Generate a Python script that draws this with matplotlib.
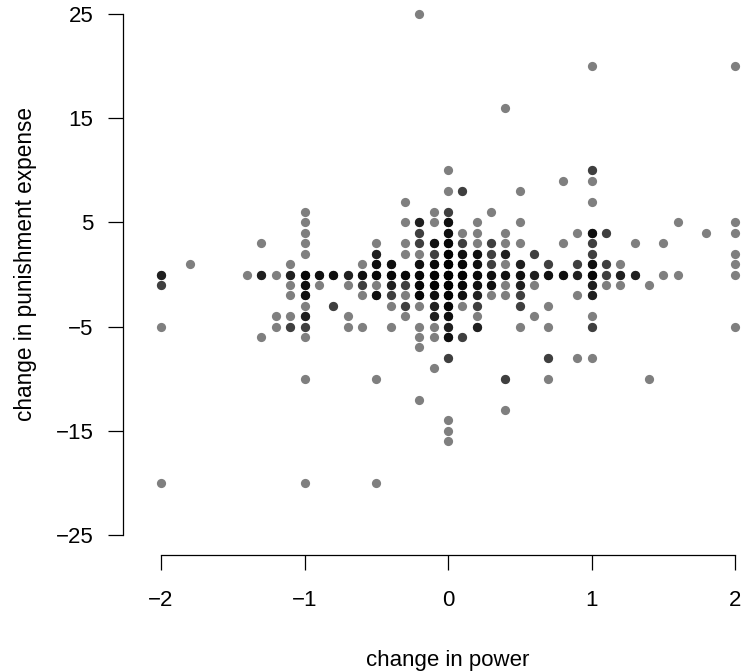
import numpy as np
import matplotlib
matplotlib.use("Agg")
import matplotlib.pyplot as plt

plt.rcParams['font.family'] = ['Liberation Sans', 'DejaVu Sans']

# data: (change in power, change in punishment expense, number of overlapping observations)
power = [
    -2.0, -2.0, -2.0, -2.0,
    -1.8,
    -1.4,
    -1.3, -1.3, -1.3,
    -1.2, -1.2, -1.2,
    -1.1, -1.1, -1.1, -1.1, -1.1, -1.1,
    -1.0, -1.0, -1.0, -1.0, -1.0, -1.0, -1.0, -1.0, -1.0, -1.0, -1.0, -1.0, -1.0, -1.0,
    -0.9, -0.9,
    -0.8, -0.8,
    -0.7, -0.7, -0.7, -0.7,
    -0.6, -0.6, -0.6, -0.6, -0.6,
    -0.5, -0.5, -0.5, -0.5, -0.5, -0.5, -0.5, -0.5,
    -0.4, -0.4, -0.4, -0.4, -0.4, -0.4,
    -0.3, -0.3, -0.3, -0.3, -0.3, -0.3, -0.3, -0.3, -0.3,
    -0.2, -0.2, -0.2, -0.2, -0.2, -0.2, -0.2, -0.2, -0.2, -0.2, -0.2, -0.2, -0.2, -0.2,
    -0.1, -0.1, -0.1, -0.1, -0.1, -0.1, -0.1, -0.1, -0.1, -0.1, -0.1, -0.1, -0.1,
    0.0, 0.0, 0.0, 0.0, 0.0, 0.0, 0.0, 0.0, 0.0, 0.0, 0.0, 0.0, 0.0, 0.0, 0.0, 0.0, 0.0, 0.0, 0.0,
    0.1, 0.1, 0.1, 0.1, 0.1, 0.1, 0.1, 0.1, 0.1, 0.1,
    0.2, 0.2, 0.2, 0.2, 0.2, 0.2, 0.2, 0.2, 0.2, 0.2, 0.2,
    0.3, 0.3, 0.3, 0.3, 0.3, 0.3, 0.3,
    0.4, 0.4, 0.4, 0.4, 0.4, 0.4, 0.4, 0.4, 0.4, 0.4,
    0.5, 0.5, 0.5, 0.5, 0.5, 0.5, 0.5, 0.5, 0.5,
    0.6, 0.6, 0.6, 0.6,
    0.7, 0.7, 0.7, 0.7, 0.7, 0.7,
    0.8, 0.8, 0.8,
    0.9, 0.9, 0.9, 0.9, 0.9,
    1.0, 1.0, 1.0, 1.0, 1.0, 1.0, 1.0, 1.0, 1.0, 1.0, 1.0, 1.0, 1.0, 1.0,
    1.1, 1.1, 1.1, 1.1,
    1.2, 1.2, 1.2,
    1.3, 1.3,
    1.4, 1.4,
    1.5, 1.5,
    1.6, 1.6,
    1.8,
    2.0, 2.0, 2.0, 2.0, 2.0, 2.0, 2.0,
]
expense = [
    0, -1, -5, -20,
    1,
    0,
    3, 0, -6,
    0, -4, -5,
    1, 0, -1, -2, -4, -5,
    6, 5, 4, 3, 2, 0, -1, -2, -3, -4, -5, -6, -10, -20,
    0, -1,
    0, -3,
    0, -1, -4, -5,
    1, 0, -1, -2, -5,
    3, 2, 1, 0, -1, -2, -10, -20,
    1, 0, -1, -2, -3, -5,
    7, 5, 3, 2, 0, -1, -2, -3, -4,
    25, 5, 4, 3, 2, 1, 0, -1, -2, -3, -5, -6, -7, -12,
    6, 5, 3, 2, 1, 0, -1, -2, -3, -4, -5, -6, -9,
    10, 8, 6, 5, 4, 3, 2, 1, 0, -1, -2, -3, -4, -5, -6, -8, -14, -15, -16,
    8, 4, 3, 2, 1, 0, -1, -2, -3, -6,
    5, 4, 3, 2, 1, 0, -1, -2, -3, -4, -5,
    6, 3, 2, 1, 0, -1, -2,
    16, 4, 3, 2, 1, 0, -1, -2, -10, -13,
    8, 5, 3, 1, 0, -1, -2, -3, -5,
    2, 0, -1, -4,
    1, 0, -3, -5, -8, -10,
    9, 3, 0,
    4, 1, 0, -2, -8,
    20, 10, 9, 7, 4, 3, 2, 1, 0, -1, -2, -4, -5, -8,
    4, 1, 0, -1,
    1, 0, -1,
    3, 0,
    -1, -10,
    3, 0,
    5, 0,
    4,
    20, 5, 4, 2, 1, 0, -5,
]
counts = [
    3, 2, 1, 1,
    1,
    1,
    1, 3, 1,
    1, 1, 1,
    1, 3, 1, 1, 1, 2,
    1, 1, 1, 1, 1, 5, 4, 4, 1, 3, 2, 1, 1, 1,
    4, 1,
    4, 2,
    3, 1, 1, 1,
    1, 4, 2, 1, 1,
    1, 3, 4, 5, 1, 4, 1, 1,
    4, 5, 3, 2, 1, 1,
    1, 1, 1, 1, 5, 2, 1, 2, 1,
    1, 3, 2, 2, 1, 4, 5, 5, 5, 1, 1, 1, 1, 1,
    1, 1, 4, 2, 5, 6, 6, 4, 3, 3, 1, 1, 1,
    1, 1, 2, 4, 4, 5, 6, 8, 10, 8, 6, 5, 4, 3, 4, 2, 1, 1, 1,
    2, 1, 2, 4, 5, 6, 5, 4, 1, 2,
    1, 1, 1, 4, 4, 5, 4, 3, 2, 1, 3,
    1, 2, 2, 2, 4, 4, 1,
    1, 1, 1, 3, 1, 4, 1, 1, 2, 1,
    1, 1, 1, 3, 4, 3, 2, 2, 1,
    2, 3, 1, 1,
    2, 4, 1, 1, 2, 1,
    1, 1, 4,
    1, 2, 3, 1, 1,
    1, 2, 1, 1, 4, 2, 2, 4, 5, 3, 3, 1, 2, 1,
    2, 2, 2, 1,
    1, 3, 1,
    1, 3,
    1, 1,
    1, 1,
    1, 1,
    1,
    1, 1, 1, 1, 1, 1, 1,
]

xticks = [-2, -1, 0, 1, 2]
yticks = [-25, -15, -5, 5, 15, 25]

x = np.repeat(np.array(power), counts)
y = np.repeat(np.array(expense), counts)

W, H = 743, 672
fig = plt.figure(figsize=(W / 100, H / 100), dpi=100)

ax_left, ax_right, ax_bottom, ax_top = 123, 743, 555, 5
ax = fig.add_axes([ax_left / W, (H - ax_bottom) / H, (ax_right - ax_left) / W, (ax_bottom - ax_top) / H])

ppx = (735 - 161) / 4.0
ppy = (535 - 14) / 50.0
ax.set_xlim(-2 - (161 - ax_left) / ppx, 2 + (ax_right - 735) / ppx)
ax.set_ylim(-25 - (ax_bottom - 535) / ppy, 25 + (14 - ax_top) / ppy)

ax.scatter(x, y, s=44, c='black', alpha=0.5, linewidths=0)

for s in ['top', 'right']:
    ax.spines[s].set_visible(False)
ax.spines['left'].set_bounds(-25, 25)
ax.spines['bottom'].set_bounds(-2, 2)
for s in ['left', 'bottom']:
    ax.spines[s].set_linewidth(0.9)

ax.set_xticks(xticks)
ax.set_xticklabels([f"{t}".replace('-', '\u2212') for t in xticks])
ax.set_yticks(yticks)
ax.set_yticklabels([f"{t}".replace('-', '\u2212') for t in yticks])
ax.tick_params(axis='both', direction='out', length=10.8, width=0.9, labelsize=16, colors='black')
ax.tick_params(axis='x', pad=14.5)
ax.tick_params(axis='y', pad=10.5)

fig.text(448 / W, 1 - 666 / H, 'change in power', ha='center', va='baseline', fontsize=16)
fig.text(26 / W, 1 - 264 / H, 'change in punishment expense', ha='center', va='center',
         rotation=90, fontsize=16.3)

fig.savefig('out.png', dpi=100)
